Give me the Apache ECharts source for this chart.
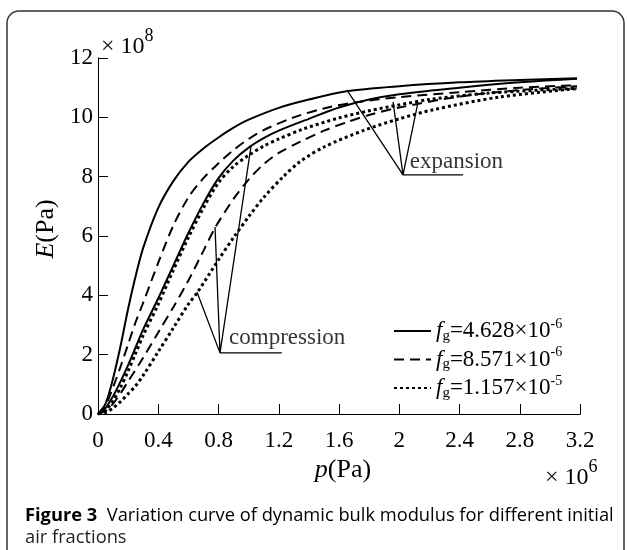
<!DOCTYPE html>
<html>
<head>
    <meta charset="UTF-8">
    <title>Dynamic bulk modulus</title>
    <script src="https://cdn.jsdelivr.net/npm/echarts@6/dist/echarts.min.js"></script>
    <style>
        body { margin: 0; background: #fff; }
        #chart { width: 627px; height: 550px; }
    </style>
</head>
<body>
<div id="chart"></div>
<script>
    // p in 1e6 Pa, E in 1e8 Pa
    var sExp = [[0,0],[0.05,0.35],[0.1,1.2],[0.15,2.3],[0.2,3.55],[0.25,4.65],[0.3,5.6],[0.4,6.95],[0.5,7.85],[0.6,8.5],[0.7,8.95],[0.8,9.32],[0.9,9.65],[1.0,9.92],[1.2,10.32],[1.4,10.6],[1.65,10.88],[2.0,11.05],[2.4,11.18],[2.8,11.26],[3.18,11.32]];
    var sComp = [[0,0],[0.05,0.2],[0.1,0.6],[0.15,1.1],[0.2,1.65],[0.25,2.25],[0.3,2.85],[0.4,3.9],[0.5,5.0],[0.6,6.1],[0.7,7.1],[0.8,7.95],[0.9,8.55],[1.0,8.98],[1.1,9.3],[1.2,9.55],[1.4,9.95],[1.6,10.33],[1.8,10.6],[2.0,10.78],[2.4,11.0],[2.8,11.18],[3.18,11.3]];
    var dExp = [[0,0],[0.05,0.3],[0.1,0.9],[0.15,1.6],[0.2,2.35],[0.25,3.1],[0.3,3.75],[0.4,5.1],[0.5,6.35],[0.6,7.3],[0.7,7.95],[0.8,8.45],[0.9,8.9],[1.0,9.27],[1.1,9.57],[1.3,10.0],[1.5,10.3],[1.7,10.5],[2.0,10.68],[2.4,10.85],[2.8,11.0],[3.18,11.08]];
    var dComp = [[0,0],[0.05,0.1],[0.1,0.35],[0.15,0.7],[0.2,1.1],[0.3,1.9],[0.4,2.75],[0.5,3.6],[0.6,4.5],[0.7,5.5],[0.78,6.3],[0.9,7.25],[1.0,7.9],[1.1,8.42],[1.2,8.8],[1.34,9.17],[1.5,9.55],[1.66,9.85],[1.8,10.08],[2.0,10.33],[2.4,10.7],[2.8,10.92],[3.18,11.05]];
    var tExp = [[0,0],[0.05,0.12],[0.1,0.45],[0.15,0.9],[0.2,1.45],[0.25,2.05],[0.3,2.65],[0.4,3.7],[0.5,4.85],[0.6,5.95],[0.7,6.95],[0.8,7.8],[0.9,8.35],[1.0,8.72],[1.1,9.03],[1.2,9.27],[1.36,9.6],[1.6,9.98],[1.8,10.22],[2.0,10.42],[2.2,10.6],[2.6,10.82],[3.18,10.98]];
    var tComp = [[0,0],[0.05,0.05],[0.1,0.2],[0.15,0.42],[0.2,0.68],[0.25,0.95],[0.3,1.3],[0.4,2.1],[0.5,2.9],[0.6,3.7],[0.66,4.1],[0.8,5.2],[0.9,5.95],[1.0,6.65],[1.1,7.3],[1.23,8.0],[1.34,8.5],[1.5,9.0],[1.77,9.57],[2.0,9.95],[2.22,10.25],[2.66,10.68],[3.18,10.97]];

    var fgNames = ['fg1', 'fg2', 'fg3'];
    var fgMantissa = ['4.628', '8.571', '1.157'];
    var fgExponent = ['-6', '-6', '-5'];

    // annotation pointer lines (vertex, curve points, underline)
    var compPts = [[0.657,4.11],[0.81,2.06],[0.777,6.3],[0.81,2.06],[1.016,9.03],[0.81,2.06],[1.22,2.06]];
    var expPts = [[1.653,10.92],[2.025,8.06],[1.959,10.52],[2.025,8.06],[2.125,10.52],[2.025,8.06],[2.424,8.06]];
    var annotTexts = [[0.87, 2.55, 'compression'], [2.07, 8.48, 'expansion']];

    var serif = 'Liberation Serif';
    var rich = {
        m: {fontFamily: serif, fontSize: 23, color: '#000'},
        i: {fontFamily: serif, fontSize: 23, color: '#000', fontStyle: 'italic'},
        sub: {fontFamily: serif, fontSize: 15, color: '#000', padding: [10, 0, 0, 0]},
        sup: {fontFamily: serif, fontSize: 14, color: '#000', padding: [0, 0, 14, 0]}
    };
    var nameRich = {
        i: {fontFamily: serif, fontSize: 26, color: '#000', fontStyle: 'italic'},
        m: {fontFamily: serif, fontSize: 26, color: '#000'}
    };

    function curve(name, data, width, dash) {
        return {
            name: name, type: 'line', data: data, smooth: 0.3, showSymbol: false, symbol: 'none',
            lineStyle: {color: '#000', width: width, type: dash, cap: 'butt'},
            itemStyle: {color: '#000'}, z: 3
        };
    }

    function pointer(data) {
        return {
            type: 'line', data: data, showSymbol: false, symbol: 'none',
            lineStyle: {color: '#000', width: 1.3}, z: 4
        };
    }

    // frame axis: draws the box edge, no ticks
    function edgeAxis(scale, pos, extra) {
        return Object.assign({
            type: 'value', min: scale[0], max: scale[1], interval: scale[2], position: pos,
            axisLine: {show: true, lineStyle: {color: '#000', width: 1}},
            axisTick: {show: false}, splitLine: {show: false}, axisLabel: {show: false}
        }, extra || {});
    }
    // tick-only axis pulled 5px into the plot so its outward ticks end on the edge
    function tickAxis(scale, pos) {
        return {
            type: 'value', min: scale[0], max: scale[1], interval: scale[2], position: pos, offset: -5,
            axisLine: {show: false}, splitLine: {show: false}, axisLabel: {show: false},
            axisTick: {show: true, length: 5, lineStyle: {color: '#000', width: 1}}
        };
    }

    var xScale = [0, 3.2, 0.4];
    var yScale = [0, 12, 2];

    var chart = echarts.init(document.getElementById('chart'), null, {renderer: 'canvas'});

    var option = {
        animation: false,
        backgroundColor: '#fff',
        grid: {left: 98, top: 58, width: 482, height: 356},
        xAxis: [
            edgeAxis(xScale, 'bottom', {
                axisLabel: {show: true, color: '#000', fontFamily: serif, fontSize: 23, margin: 15},
                name: '{i|p}{m|(Pa)}', nameLocation: 'middle', nameGap: 40,
                nameTextStyle: {rich: nameRich, padding: [0, 0, 0, 8]}
            }),
            edgeAxis(xScale, 'top'),
            tickAxis(xScale, 'bottom'),
            tickAxis(xScale, 'top')
        ],
        yAxis: [
            edgeAxis(yScale, 'left', {
                axisLabel: {show: true, color: '#000', fontFamily: serif, fontSize: 23, margin: 5},
                name: '{i|E}{m|(Pa)}', nameLocation: 'middle', nameGap: 37,
                nameTextStyle: {rich: nameRich, padding: [0, 0, 0, 14]}
            }),
            edgeAxis(yScale, 'right'),
            tickAxis(yScale, 'left'),
            tickAxis(yScale, 'right')
        ],
        legend: {
            left: 388, top: 312, orient: 'vertical',
            itemWidth: 37, itemHeight: 12, itemGap: 2,
            data: fgNames,
            itemStyle: {opacity: 0},
            formatter: function (name) {
                var k = fgNames.indexOf(name);
                return '{i|f}{sub|g}{m|=' + fgMantissa[k] + '×10}{sup|' + fgExponent[k] + '}';
            },
            textStyle: {rich: rich}
        },
        series: [
            curve(fgNames[0], sExp, 2, 'solid'),
            curve(fgNames[0], sComp, 2, 'solid'),
            curve(fgNames[1], dExp, 2, [10, 6]),
            curve(fgNames[1], dComp, 2, [10, 6]),
            curve(fgNames[2], tExp, 3, [3, 3]),
            curve(fgNames[2], tComp, 3, [3, 3]),
            pointer(compPts),
            pointer(expPts),
            {
                type: 'scatter', data: annotTexts, symbolSize: 0,
                itemStyle: {color: 'transparent'},
                label: {
                    show: true, position: [0, 0], align: 'left', verticalAlign: 'middle',
                    color: '#000', fontFamily: serif, fontSize: 23,
                    formatter: function (p) { return p.value[2]; }
                }
            }
        ],
        graphic: [
            {
                type: 'rect', silent: true,
                shape: {x: 7, y: 11, width: 617, height: 600, r: 12},
                style: {fill: 'none', stroke: '#333', lineWidth: 1.5}
            },
            {
                type: 'text', x: 101, y: 47, silent: true,
                style: {text: '{m|× 10}{sup|8}', verticalAlign: 'middle', rich: {
                    m: {fontFamily: serif, fontSize: 24, color: '#000'},
                    sup: {fontFamily: serif, fontSize: 18, color: '#000', padding: [0, 0, 22, 0]}
                }}
            },
            {
                type: 'text', x: 545, y: 478, silent: true,
                style: {text: '{m|× 10}{sup|6}', verticalAlign: 'middle', rich: {
                    m: {fontFamily: serif, fontSize: 24, color: '#000'},
                    sup: {fontFamily: serif, fontSize: 18, color: '#000', padding: [0, 0, 22, 0]}
                }}
            },
            {
                type: 'text', x: 25, y: 516, silent: true,
                style: {text: '{b|Figure 3}{r|  Variation curve of dynamic bulk modulus for different initial}',
                    verticalAlign: 'middle', rich: {
                        b: {fontFamily: 'Open Sans', fontWeight: 'bold', fontSize: 18.3, color: '#231f20'},
                        r: {fontFamily: 'Open Sans', fontSize: 18.3, color: '#231f20'}
                    }}
            },
            {
                type: 'text', x: 25, y: 538, silent: true,
                style: {text: 'air fractions', verticalAlign: 'middle',
                    font: '18.3px "Open Sans"', fill: '#231f20'}
            }
        ]
    };

    chart.setOption(option);
</script>
</body>
</html>
